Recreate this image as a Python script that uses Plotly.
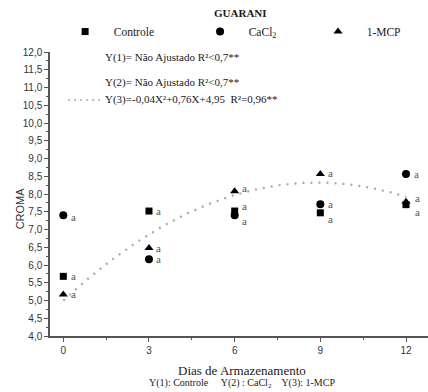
import numpy as np
import plotly.graph_objects as go

# Storage days and chroma readings per treatment
dias = [0, 3, 6, 9, 12]
controle = [5.68, 7.52, 7.52, 7.47, 7.70]
cacl2 = [7.40, 6.16, 7.40, 7.71, 8.56]
mcp = [5.17, 6.48, 8.08, 8.56, 7.78]
letras_controle = ["a", "a", "a", "a", "a"]
letras_cacl2 = ["a", "a", "a", "a", "a"]
letras_mcp = ["a", "a", "a", "a", "a"]

y_ticks = [4.0 + 0.5 * i for i in range(17)]
x_ticks = [0, 3, 6, 9, 12]

SERIF = "Liberation Serif"
SANS = "Liberation Sans"
INK = "#1a1a1a"
CURVE = "#a8a8a8"
NB = "&nbsp;"

fig = go.Figure()

# quadratic regression for 1-MCP, drawn as a dotted gray curve
coef = np.polyfit(dias, mcp, 2)
xs = np.linspace(0, 12, 121)
fig.add_trace(go.Scatter(
    x=xs, y=np.polyval(coef, xs), mode="lines",
    line=dict(color=CURVE, width=2.2, dash="2px,6px"),
    showlegend=False, hoverinfo="skip",
))

series = [
    ("Controle", controle, letras_controle, "square", 7, "legend"),
    ("CaCl<sub>2</sub>", cacl2, letras_cacl2, "circle", 8, "legend2"),
    ("1-MCP", mcp, letras_mcp, "triangle-up", 8, "legend3"),
]
for name, vals, _, sym, size, leg in series:
    label = NB * 3 + "<span style='font-family:Liberation Serif'>" + name + "</span>"
    fig.add_trace(go.Scatter(
        x=dias, y=vals, mode="markers", name=label, legend=leg,
        marker=dict(symbol=sym, size=size, color="black"),
    ))

# significance letters beside each point; (dx, dy) pixel nudges keep them apart
nudges = [
    [(10, 0), (10, 0), (10, 5), (10, -6), (11, -7)],
    [(10, -2), (10, 0), (10, -6), (10, 0), (10, 0)],
    [(10, 0), (10, 0), (10, 3), (10, 1), (11, 4)],
]
for k, (_, vals, letras, _, _, _) in enumerate(series):
    for i, (x, y, t) in enumerate(zip(dias, vals, letras)):
        dx, dy = nudges[k][i]
        fig.add_annotation(
            x=x, y=y, text=t, showarrow=False, xanchor="center",
            xshift=dx, yshift=dy,
            font=dict(family=SERIF, size=11, color="#555555"),
        )

# regression equations
eqs = [
    ("Y(1)= Não Ajustado R²<0,7**", 0.979),
    ("Y(2)= Não Ajustado R²<0,7**", 0.894),
    ("Y(3)=-0,04X²+0,76X+4,95  R²=0,96**", 0.831),
]
for txt, yy in eqs:
    fig.add_annotation(
        x=0.140, y=yy, xref="paper", yref="paper", text=txt,
        showarrow=False, xanchor="left", yanchor="middle",
        font=dict(family=SERIF, size=11, color=INK),
    )
fig.add_shape(
    type="line", xref="paper", yref="paper",
    x0=0.048, x1=0.132, y0=0.831, y1=0.831,
    line=dict(color=CURVE, width=1.6, dash="2px,4px"),
)

fig.add_annotation(
    x=0.505, y=1.137, xref="paper", yref="paper",
    text="<b>GUARANI</b>", showarrow=False, xanchor="center", yanchor="middle",
    font=dict(family=SERIF, size=11, color=INK),
)
fig.add_annotation(
    x=0.509, y=-0.12, xref="paper", yref="paper",
    text="Dias de Armazenamento", showarrow=False,
    xanchor="center", yanchor="middle",
    font=dict(family=SERIF, size=13, color=INK),
)
fig.add_annotation(
    x=0.509, y=-0.167, xref="paper", yref="paper",
    text="Y(1): Controle" + NB * 5 + "Y(2) : CaCl<sub>2</sub>" + NB * 4 + "Y(3): 1-MCP",
    showarrow=False, xanchor="center", yanchor="middle",
    font=dict(family=SERIF, size=10, color=INK),
)
fig.add_annotation(
    x=-0.079, y=0.45, xref="paper", yref="paper", text="CROMA",
    textangle=-90, showarrow=False, xanchor="center", yanchor="middle",
    font=dict(family=SANS, size=11, color="#333333"),
)

axis_common = dict(
    showline=True, linecolor="#555555", linewidth=1.5,
    ticks="outside", tickcolor="#555555", tickwidth=1.2, ticklen=4,
    showgrid=False, zeroline=False,
    tickfont=dict(family=SANS, size=10, color="#333333"),
)
fig.update_xaxes(
    range=[-0.466, 12.77], tickvals=x_ticks,
    minor=dict(tickvals=[1.5, 4.5, 7.5, 10.5], ticklen=2, tickcolor="#555555", ticks="outside"),
    **axis_common,
)
fig.update_yaxes(
    range=[4.0, 12.0], tickvals=y_ticks, tickformat=".1f",
    minor=dict(tickvals=[4.25 + 0.5 * i for i in range(16)], ticklen=2,
               tickcolor="#555555", ticks="outside"),
    **axis_common,
)

legend_style = dict(
    orientation="h", y=1.072, xanchor="left", yanchor="middle",
    font=dict(family=SERIF, size=11.5, color=INK),
    bgcolor="rgba(0,0,0,0)", itemclick=False, itemdoubleclick=False,
)
fig.update_layout(
    width=428, height=392,
    margin=dict(l=50, r=0, t=52, b=56),
    paper_bgcolor="white", plot_bgcolor="white",
    separators=",.",
    font=dict(family=SERIF, color=INK),
    legend=dict(x=0.04, **legend_style),
    legend2=dict(x=0.397, **legend_style),
    legend3=dict(x=0.709, **legend_style),
)

fig.write_html("out.html")
